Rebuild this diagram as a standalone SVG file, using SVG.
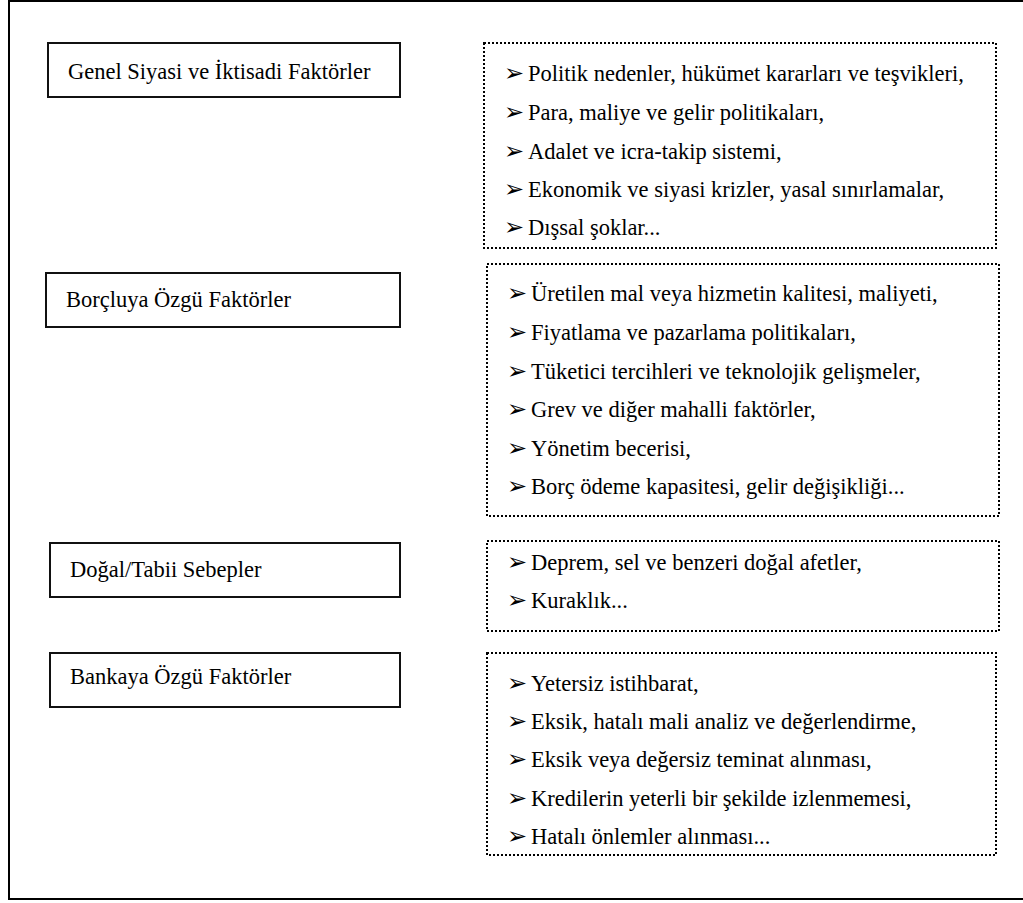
<svg xmlns="http://www.w3.org/2000/svg" width="1023" height="903" viewBox="0 0 1023 903">
<style>
.frame{fill:none;stroke:#000;stroke-width:2}
.box{fill:#fff;stroke:#111;stroke-width:2}
.dot{fill:#fff;stroke:#000;stroke-width:2;stroke-dasharray:2 2}
.t{font-family:"Liberation Serif","Times New Roman",serif;font-size:22.5px;fill:#000}
.a{font-family:"DejaVu Sans",sans-serif;font-size:24px;fill:#000}
</style>
<rect class="frame" x="9" y="1" width="1040" height="898"/>
<g id="connectors"></g>
<g id="n1">
<rect class="box" x="48" y="43" width="352" height="54"/>
<text class="t" x="68" y="79">Genel Siyasi ve İktisadi Faktörler</text>
</g>
<g id="l1">
<rect class="dot" x="484" y="43" width="512" height="205"/>
<text class="a" x="504" y="81">➢</text><text class="t" x="528" y="81">Politik nedenler, hükümet kararları ve teşvikleri,</text>
<text class="a" x="504" y="120">➢</text><text class="t" x="528" y="120">Para, maliye ve gelir politikaları,</text>
<text class="a" x="504" y="159">➢</text><text class="t" x="528" y="159">Adalet ve icra-takip sistemi,</text>
<text class="a" x="504" y="197">➢</text><text class="t" x="528" y="197">Ekonomik ve siyasi krizler, yasal sınırlamalar,</text>
<text class="a" x="504" y="235">➢</text><text class="t" x="528" y="235">Dışsal şoklar...</text>
</g>
<g id="n2">
<rect class="box" x="46" y="273" width="354" height="54"/>
<text class="t" x="66" y="307">Borçluya Özgü Faktörler</text>
</g>
<g id="l2">
<rect class="dot" x="487" y="264" width="512" height="252"/>
<text class="a" x="507" y="301">➢</text><text class="t" x="531" y="301">Üretilen mal veya hizmetin kalitesi, maliyeti,</text>
<text class="a" x="507" y="340">➢</text><text class="t" x="531" y="340">Fiyatlama ve pazarlama politikaları,</text>
<text class="a" x="507" y="379">➢</text><text class="t" x="531" y="379">Tüketici tercihleri ve teknolojik gelişmeler,</text>
<text class="a" x="507" y="417">➢</text><text class="t" x="531" y="417">Grev ve diğer mahalli faktörler,</text>
<text class="a" x="507" y="456">➢</text><text class="t" x="531" y="456">Yönetim becerisi,</text>
<text class="a" x="507" y="494">➢</text><text class="t" x="531" y="494">Borç ödeme kapasitesi, gelir değişikliği...</text>
</g>
<g id="n3">
<rect class="box" x="50" y="543" width="350" height="54"/>
<text class="t" x="70" y="577">Doğal/Tabii Sebepler</text>
</g>
<g id="l3">
<rect class="dot" x="487" y="541" width="512" height="90"/>
<text class="a" x="507" y="570">➢</text><text class="t" x="531" y="570">Deprem, sel ve benzeri doğal afetler,</text>
<text class="a" x="507" y="608">➢</text><text class="t" x="531" y="608">Kuraklık...</text>
</g>
<g id="n4">
<rect class="box" x="50" y="653" width="350" height="54"/>
<text class="t" x="70" y="684">Bankaya Özgü Faktörler</text>
</g>
<g id="l4">
<rect class="dot" x="487" y="653" width="509" height="202"/>
<text class="a" x="507" y="691">➢</text><text class="t" x="531" y="691">Yetersiz istihbarat,</text>
<text class="a" x="507" y="729">➢</text><text class="t" x="531" y="729">Eksik, hatalı mali analiz ve değerlendirme,</text>
<text class="a" x="507" y="767">➢</text><text class="t" x="531" y="767">Eksik veya değersiz teminat alınması,</text>
<text class="a" x="507" y="806">➢</text><text class="t" x="531" y="806">Kredilerin yeterli bir şekilde izlenmemesi,</text>
<text class="a" x="507" y="844">➢</text><text class="t" x="531" y="844">Hatalı önlemler alınması...</text>
</g>
</svg>
